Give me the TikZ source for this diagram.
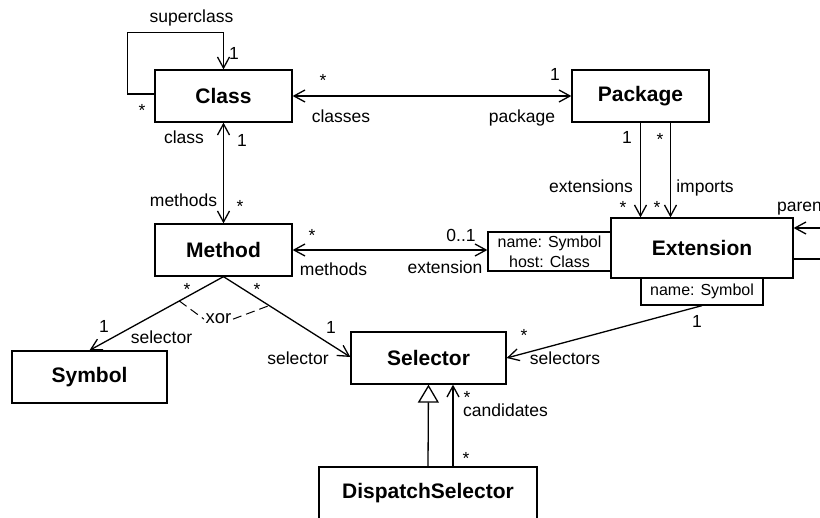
\documentclass[tikz,border=0pt]{standalone}
\usepackage{fontspec}
\setmainfont{Liberation Sans}
\usetikzlibrary{arrows.meta,calc}
\begin{document}
\begin{tikzpicture}[x=1pt,y=-1pt,
  cls/.style={draw,line width=1.3pt,inner sep=0pt,font=\fontsize{21}{24}\selectfont\bfseries},
  comp/.style={draw,line width=1.3pt,inner sep=0pt,font=\fontsize{16}{20}\selectfont,align=center},
  lbl/.style={inner sep=0pt,anchor=base,font=\fontsize{17.5}{20}\selectfont},
  conn/.style={line width=1.3pt},
  nav/.style={conn,-{Straight Barb[length=11pt,width=12pt]}},
  bnav/.style={conn,{Straight Barb[length=11pt,width=12pt]}-{Straight Barb[length=11pt,width=12pt]}},
  gen/.style={conn,-{Triangle[open,length=18pt,width=21pt]}},
]
\useasboundingbox (0,0) rectangle (820,518);
\clip (0,0) rectangle (820,518);

% classes
\node[cls,minimum width=137pt,minimum height=52pt] (Class) at (223.5,96) {Class};
\node[cls,minimum width=137pt,minimum height=52pt] (Package) at (640.5,96) {Package};
\node[cls,minimum width=137pt,minimum height=52pt] (Method) at (223.5,250) {Method};
\node[cls,minimum width=182pt,minimum height=60pt] (Extension) at (702,248) {Extension};
\node[comp,minimum width=123pt,minimum height=39pt] (ExtQ) at (549.5,251.5) {name: Symbol\\host: Class};
\node[comp,minimum width=122pt,minimum height=27pt] (ExtB) at (702,291.5) {name: Symbol};
\node[cls,minimum width=155pt,minimum height=52pt] (Selector) at (428.5,358) {Selector};
\node[cls,minimum width=155pt,minimum height=52pt] (Symbol) at (89.5,377) {Symbol};
\node[cls,minimum width=218pt,minimum height=52pt] (Dispatch) at (428,493) {DispatchSelector};

% superclass loop
\draw[nav] ([yshift=2pt]Class.west) -- ++(-27,0) |- ([yshift=37pt]Class.north) -- (Class.north);
\node[lbl] (lsup) at (191.5,23) {superclass};
\node[lbl] (lsup1) at (234,60) {1};
\node[lbl] (lsupm) at (142,117) {*};

% Class <-> Package
\draw[bnav] (Class) -- (Package);
\node[lbl] (lcp1) at (323,87) {*};
\node[lbl] (lcp2) at (341,123) {classes};
\node[lbl] (lcp3) at (555,81) {1};
\node[lbl] (lcp4) at (522,123) {package};

% Class <-> Method
\draw[bnav] (Class) -- (Method);
\node[lbl] (lcm1) at (184,144) {class};
\node[lbl] (lcm2) at (242,147) {1};
\node[lbl] (lcm3) at (183.5,207) {methods};
\node[lbl] (lcm4) at (240,213) {*};

% Package -> Extension
\draw[nav] (Package.south) -- (Package.south |- Extension.north);
\draw[nav] ([xshift=30pt]Package.south) -- ([xshift=30pt]Package.south |- Extension.north);
\node[lbl] (lpe1) at (627,144) {1};
\node[lbl] (lpe2) at (660,146) {*};
\node[lbl] (lpe3) at (591,193) {extensions};
\node[lbl] (lpe4) at (705,193) {imports};
\node[lbl] (lpe5) at (623,214) {*};
\node[lbl] (lpe6) at (657,214) {*};

% parent loop
\draw[nav] ([yshift=-11pt]Extension.east) -- ++(40,0) -- ++(0,-31) -- ([yshift=20pt]Extension.east);
\node[lbl,anchor=base west] (lpar) at (777,212) {parent};

% Method <-> Extension
\draw[bnav] (Method.east) -- (Method.east -| ExtQ.west);
\node[lbl] (lme1) at (312,242) {*};
\node[lbl] (lme2) at (333.5,276) {methods};
\node[lbl] (lme3) at (461,242) {0..1};
\node[lbl] (lme4) at (445,274) {extension};

% Extension -> Selector
\draw[nav] (ExtB.south) -- (Selector.east);
\node[lbl] (les1) at (697,328) {1};
\node[lbl] (les2) at (524,342) {*};
\node[lbl] (les3) at (565,365) {selectors};

% Method -> Symbol, Method -> Selector
\draw[nav] (Method.south) -- (Symbol.north);
\draw[nav] (Method.south) -- ([yshift=1pt]Selector.west);
\node[lbl] (lms1) at (187,296) {*};
\node[lbl] (lms2) at (104,333) {1};
\node[lbl] (lms3) at (161.5,344) {selector};
\node[lbl] (lmx1) at (257,296) {*};
\node[lbl] (lmx2) at (331,334) {1};
\node[lbl] (lmx3) at (298,365) {selector};

% xor constraint
\coordinate (xl) at ($(Method.south)!0.33!(Symbol.north)$);
\coordinate (xr) at ($(Method.south)!0.36!([yshift=1pt]Selector.west)$);
\node[lbl,inner sep=1.5pt,font=\fontsize{18.5}{20}\selectfont] (xor) at (218.5,324) {xor};
\draw[conn,line width=1pt,dash pattern=on 9pt off 5pt] (xl) -- (xor.west);
\draw[conn,line width=1pt,dash pattern=on 9pt off 5pt] (xor.east) -- (xr);

% generalization and candidates
\draw[gen] (Dispatch.north) -- (Selector.south);
\draw[nav] ([xshift=25pt]Dispatch.north) -- ([xshift=25pt]Dispatch.north |- Selector.south);
\node[lbl] (lds1) at (467,404) {*};
\node[lbl,anchor=base west] (lds2) at (463,417) {candidates};
\node[lbl] (lds3) at (466,465) {*};
\end{tikzpicture}
\end{document}
